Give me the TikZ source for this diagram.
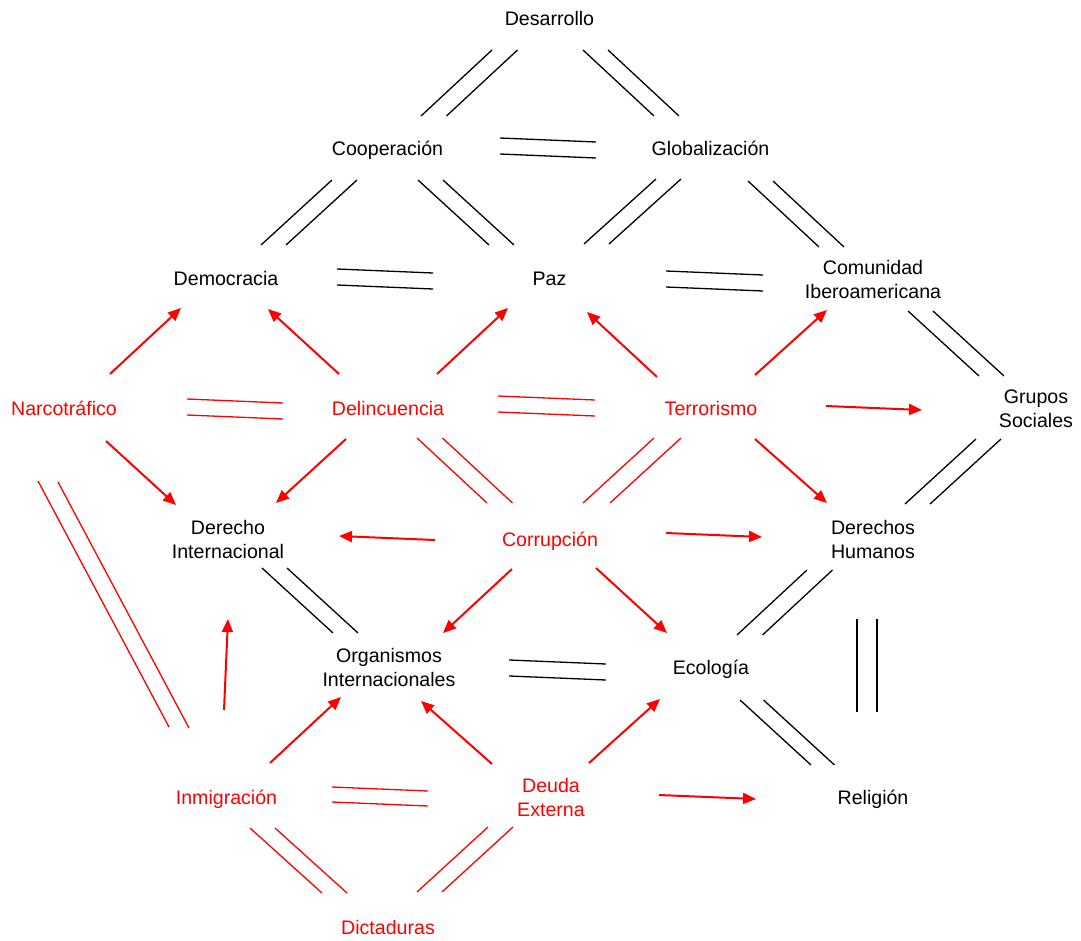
\documentclass[tikz,border=0pt]{standalone}
\usepackage{fontspec}
\setmainfont{Liberation Sans}
\usetikzlibrary{calc,arrows.meta}

% two parallel strokes: #2+(#3) -- #4+(#5), repeated shifted by (#6)
\newcommand\twinlines[6][black]{%
  \draw[pair,#1] ($(#2)+(#3)$) -- ($(#4)+(#5)$)
                 ($(#2)+(#3)+(#6)$) -- ($(#4)+(#5)+(#6)$);}
% red influence arrow from #1+(#2) to #3+(#4)
\newcommand\arrowlink[4]{\draw[arr] ($(#1)+(#2)$) -- ($(#3)+(#4)$);}

\begin{document}
\begin{tikzpicture}[x=1pt,y=-1pt,
  lbl/.style={inner sep=0pt, font=\fontsize{19.6}{24}\selectfont,
              text height=16pt, text depth=2pt},
  lbl2/.style={inner sep=0pt, font=\fontsize{19.6}{24}\selectfont, align=center},
  hot/.style={text=red},
  pair/.style={line width=1.3pt},
  arr/.style={red, line width=2pt, -{Triangle[length=13pt,width=11pt]}}]
\useasboundingbox (0,0) rectangle (1081,941);

% concepts
\node[lbl]  (des) at (549.5,19)  {Desarrollo};
\node[lbl]  (coo) at (387.5,149) {Cooperación};
\node[lbl]  (glo) at (710.5,149) {Globalización};
\node[lbl]  (dem) at (226,278)   {Democracia};
\node[lbl]  (paz) at (549.5,278) {Paz};
\node[lbl2] (com) at (873,279)   {Comunidad\\Iberoamericana};
\node[lbl,hot] (nar) at (64,408)  {Narcotráfico};
\node[lbl,hot] (del) at (388,408) {Delincuencia};
\node[lbl,hot] (ter) at (711,408) {Terrorismo};
\node[lbl2] (gru) at (1036,409)  {Grupos\\Sociales};
\node[lbl2] (der) at (228,539)   {Derecho\\Internacional};
\node[lbl,hot] (cor) at (550,539) {Corrupción};
\node[lbl2] (dh)  at (873,539)   {Derechos\\Humanos};
\node[lbl2] (org) at (389,667.5) {Organismos\\Internacionales};
\node[lbl]  (eco) at (711,667)   {Ecología};
\node[lbl,hot] (inm) at (226.5,797) {Inmigración};
\node[lbl2,hot] (deu) at (551,797) {Deuda\\Externa};
\node[lbl]  (rel) at (873,797)   {Religión};
\node[lbl,hot] (dic) at (388,927) {Dictaduras};

% black double links
\twinlines{des}{-57.5,31}{coo}{33.5,-33}{25.5,0}
\twinlines{des}{33.5,31}{glo}{-56.5,-33}{25,0}
\twinlines{coo}{112.5,-11}{glo}{-114.5,-7}{0,16}
\twinlines{coo}{-55.5,31}{dem}{35,-33}{25,0}
\twinlines{coo}{30.5,31}{paz}{-60.5,-33}{25,0}
\twinlines{glo}{-54.5,30}{paz}{34.5,-34}{25,0}
\twinlines{glo}{37.5,32}{com}{-54,-32}{25,0}
\twinlines{dem}{111,-9}{paz}{-116.5,-5}{0,16}
\twinlines{paz}{116.5,-7}{com}{-110,-4}{0,16}
\twinlines{com}{35,32}{gru}{-57,-33}{25,0}
\twinlines{gru}{-60,30}{dh}{32,-35}{25,0}
\twinlines{der}{34,29}{org}{-56,-34.5}{25,0}
\twinlines{org}{120,-7.5}{eco}{-105,-3}{0,16}
\twinlines{dh}{-66,31}{eco}{26,-32}{25.5,0}
\twinlines{eco}{29,33}{rel}{-62,-32}{23.5,0}
\twinlines{dh}{-16,80}{rel}{-16,-85}{20,0}

% red double links
\twinlines[red]{nar}{123,-9}{del}{-105,-5}{0,16}
\twinlines[red]{del}{110,-12}{ter}{-116,-8}{0,16}
\twinlines[red]{del}{29,30}{cor}{-63,-36}{25.5,0}
\twinlines[red]{ter}{-57,30}{cor}{33,-36}{27,0}
\twinlines[red]{nar}{-26,73}{inm}{-57.5,-70}{20,1}
\twinlines[red]{inm}{105.5,-10}{deu}{-123,-6}{0,15}
\twinlines[red]{inm}{23.5,31}{dic}{-66,-34}{25,0}
\twinlines[red]{deu}{-63,30}{dic}{29,-35}{25,0}

% influence arrows
\arrowlink{nar}{46,-34}{dem}{-45,30}
\arrowlink{del}{-49,-34}{dem}{42,31}
\arrowlink{del}{49,-34}{paz}{-41.5,30}
\arrowlink{ter}{-54,-31}{paz}{37.5,34}
\arrowlink{ter}{44,-33}{com}{-46,31}
\arrowlink{ter}{115,-2}{gru}{-114,1}
\arrowlink{nar}{42,33}{der}{-52,-34}
\arrowlink{del}{-42,31}{der}{48,-36}
\arrowlink{ter}{44,31}{dh}{-46,-36}
\arrowlink{cor}{-115,1}{der}{111,-3}
\arrowlink{cor}{116,-6}{dh}{-111,-2}
\arrowlink{cor}{-38,30}{org}{54,-34.5}
\arrowlink{cor}{46,29}{eco}{-44,-34}
\arrowlink{inm}{-2.5,-87}{der}{0,80}
\arrowlink{inm}{43.5,-34}{org}{-48,29.5}
\arrowlink{deu}{-59,-33}{org}{32,33.5}
\arrowlink{deu}{38,-34}{eco}{-51,32}
\arrowlink{deu}{108,-2}{rel}{-117,2}
\end{tikzpicture}
\end{document}
